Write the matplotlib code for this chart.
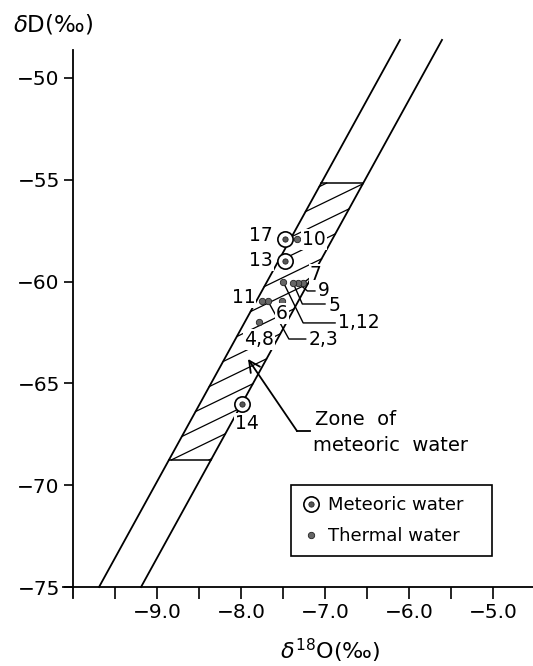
import matplotlib
matplotlib.use('Agg')
import numpy as np
import matplotlib.pyplot as plt
from matplotlib.lines import Line2D

plt.rcParams['font.family'] = ['DejaVu Sans']
plt.rcParams['mathtext.fontset'] = 'dejavusans'

# meteoric water samples
met_ids = ['17', '13', '14']
met_d18o = [-7.48, -7.48, -7.99]
met_dD = [-57.9, -59.0, -66.0]

# thermal water samples
th_ids = ['10', '7', '9', '5', '1,12', '2,3', '11', '6', '4,8']
th_d18o = [-7.33, -7.26, -7.32, -7.38, -7.50, -7.68, -7.75, -7.51, -7.79]
th_dD = [-57.9, -60.07, -60.07, -60.07, -60.0, -60.95, -60.95, -60.95, -62.0]

# sample label positions (x, y, ha)
lab_pos = {
    '17': (-7.62, -57.75, 'right'), '13': (-7.62, -58.95, 'right'),
    '14': (-7.93, -66.95, 'center'), '10': (-7.27, -57.95, 'left'),
    '7': (-7.18, -59.65, 'left'), '9': (-7.08, -60.42, 'left'),
    '5': (-6.96, -61.15, 'left'), '1,12': (-6.84, -62.03, 'left'),
    '2,3': (-7.19, -62.85, 'left'), '11': (-7.83, -60.77, 'right'),
    '6': (-7.51, -61.55, 'center'), '4,8': (-7.79, -62.83, 'center'),
}
# leader lines from label to sample
leaders = {
    '7': [(-7.26, -60.07), (-7.19, -59.85)],
    '9': [(-7.32, -60.07), (-7.21, -60.46), (-7.12, -60.46)],
    '5': [(-7.38, -60.07), (-7.27, -61.10), (-7.00, -61.10)],
    '1,12': [(-7.50, -60.0), (-7.26, -62.03), (-6.88, -62.03)],
    '2,3': [(-7.68, -60.95), (-7.43, -62.82), (-7.23, -62.82)],
}

# meteoric water line band
band_x0 = [-9.69, -9.19]   # d18O of left / right line at dD = -75
band_slope = 7.5
band_dD = [-75.0, -48.13]
zone_dD = [-68.76, -55.16]  # hatched zone limits

xticks = [-9.0, -8.0, -7.0, -6.0, -5.0]
xtick_labels = ['\u22129.0', '\u22128.0', '\u22127.0', '\u22126.0', '\u22125.0']
xminor = [-9.5, -8.5, -7.5, -6.5, -5.5]
yticks = [-75, -70, -65, -60, -55, -50]
ytick_labels = ['\u221275', '\u221270', '\u221265', '\u221260', '\u221255', '\u221250']

fig = plt.figure(figsize=(5.33, 6.66), dpi=100)
ax = fig.add_axes([0.1182, 0.1021, 0.8818, 0.8453])
ax.set_xlim(-10.119, -4.524)
ax.set_ylim(-75.54, -47.89)

# band lines
for x0 in band_x0:
    yy = np.array(band_dD)
    ax.plot(x0 + (yy + 75) / band_slope, yy, color='black', lw=1.3, zorder=2)

# hatched zone
for y in zone_dD:
    xl = band_x0[0] + (y + 75) / band_slope
    xr = band_x0[1] + (y + 75) / band_slope
    ax.plot([xl, xr], [y, y], color='black', lw=1.1, zorder=2)

hs = 2.0
bL = band_slope * (-band_x0[0]) - 75
bR = band_slope * (-band_x0[1]) - 75
for c in np.arange(-52.0, -41.0, 0.9):
    xl = (c - bL) / (band_slope - hs)
    xr = (c - bR) / (band_slope - hs)
    yl, yr = hs * xl + c, hs * xr + c
    if yl < zone_dD[0]:
        yl = zone_dD[0]; xl = (yl - c) / hs
    if yr > zone_dD[1]:
        yr = zone_dD[1]; xr = (yr - c) / hs
    if yr > yl:
        ax.plot([xl, xr], [yl, yr], color='black', lw=0.9, zorder=1)

# leaders
for k, pts in leaders.items():
    pts = np.array(pts)
    ax.plot(pts[:, 0], pts[:, 1], color='black', lw=1.0, zorder=3)

# samples
ax.plot(met_d18o, met_dD, 'o', ms=11, mfc='white', mec='black', mew=1.2, zorder=4)
ax.plot(met_d18o, met_dD, 'o', ms=3.8, mfc='#555555', mec='#222222', mew=0.6, zorder=5)
ax.plot(th_d18o, th_dD, 'o', ms=4.6, mfc='#666666', mec='#222222', mew=0.6, zorder=5)

for k, (x, y, ha) in lab_pos.items():
    ax.text(x, y, k, ha=ha, va='center', fontsize=13.5, zorder=6,
            bbox=dict(boxstyle='square,pad=0.05', fc='white', ec='none'))

# zone annotation
ax.annotate('', xy=(-7.917, -63.8), xytext=(-7.333, -67.34),
            arrowprops=dict(arrowstyle='->', lw=1.3, mutation_scale=20, color='black',
                            shrinkA=0, shrinkB=0), zorder=6)
ax.plot([-7.333, -7.18], [-67.34, -67.34], color='black', lw=1.3, zorder=6)
ax.text(-7.12, -66.75, 'Zone  of', fontsize=14, va='center', ha='left')
ax.text(-7.14, -68.05, 'meteoric  water', fontsize=14, va='center', ha='left')

# legend
h_met = (Line2D([], [], ls='none', marker='o', ms=11, mfc='white', mec='black', mew=1.2),
         Line2D([], [], ls='none', marker='o', ms=3.8, mfc='#555555', mec='#222222', mew=0.6))
h_th = Line2D([], [], ls='none', marker='o', ms=4.6, mfc='#666666', mec='#222222', mew=0.6)
leg = ax.legend([h_met, h_th], ['Meteoric water   ', 'Thermal water'],
                loc='upper left', bbox_to_anchor=(0.485, 0.2007), fontsize=13,
                frameon=True, fancybox=False, framealpha=1, edgecolor='black',
                borderpad=0.6, handlelength=1.0, handletextpad=0.45, labelspacing=0.75,
                borderaxespad=0)
leg.get_frame().set_linewidth(1.2)

# axes styling
for s in ['top', 'right']:
    ax.spines[s].set_visible(False)
ax.spines['bottom'].set_position(('data', -75))
ax.spines['left'].set_position(('data', -10))
ax.spines['left'].set_bounds(-75.54, -48.62)
ax.spines['bottom'].set_linewidth(1.3)
ax.spines['left'].set_linewidth(1.3)

ax.set_xticks(xticks)
ax.set_xticklabels(xtick_labels, fontsize=14.5)
ax.set_xticks(xminor, minor=True)
ax.set_yticks(yticks)
ax.set_yticklabels(ytick_labels, fontsize=14.5)
ax.tick_params(axis='x', which='both', direction='out', length=8.6, width=1.2, pad=3)
ax.tick_params(axis='y', direction='out', length=6.5, width=1.2, pad=3)

fig.text(13 / 533, 1 - 25 / 666, r'$\delta$D(‰)', fontsize=16.5, ha='left', va='center')
fig.text(330 / 533, 1 - 651 / 666, r'$\delta^{18}$O(‰)', fontsize=16, ha='center', va='center')

fig.savefig('out.png', dpi=100)
